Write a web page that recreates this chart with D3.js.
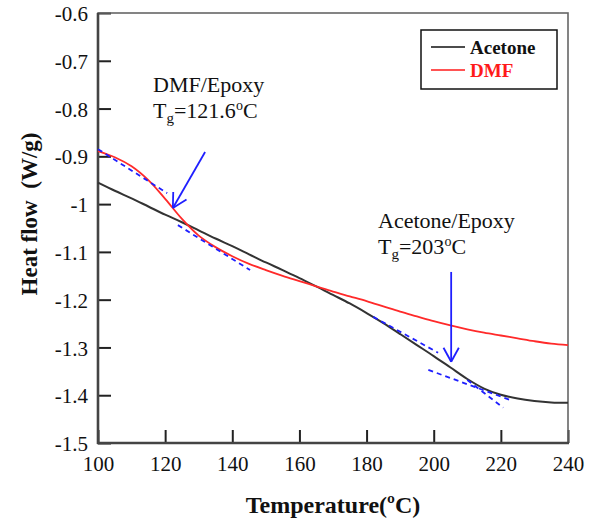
<!DOCTYPE html>
<html>
<head>
<meta charset="utf-8">
<script src="https://cdn.jsdelivr.net/npm/d3@7/dist/d3.min.js"></script>
<style>
  html, body { margin: 0; padding: 0; background: #fff; }
  svg, svg text { font-family: 'Liberation Serif', 'Tinos', 'Times New Roman', serif; }
</style>
</head>
<body>
<svg id="chart" width="594" height="522"></svg>
<script>
// ---- data ----
const temps   = [100, 105, 110, 115, 120, 125, 130, 135, 140, 145, 150, 155, 160, 165, 170, 175, 180, 185, 190, 195, 200, 205, 210, 215, 220, 225, 230, 235, 240];
const acetone = [-0.955, -0.972, -0.988, -1.005, -1.022, -1.038, -1.055, -1.072, -1.088, -1.105, -1.122, -1.138, -1.155, -1.172, -1.190, -1.208, -1.228, -1.249, -1.272, -1.295, -1.318, -1.342, -1.366, -1.386, -1.399, -1.407, -1.412, -1.415, -1.416];
const dmf     = [-0.889, -0.902, -0.921, -0.950, -0.989, -1.031, -1.066, -1.090, -1.109, -1.125, -1.138, -1.150, -1.161, -1.172, -1.183, -1.193, -1.203, -1.214, -1.225, -1.235, -1.245, -1.254, -1.262, -1.269, -1.275, -1.281, -1.287, -1.292, -1.295];
const seriesNames = ["Acetone", "DMF"];
const xTicks = [100, 120, 140, 160, 180, 200, 220, 240];
const yTicks = [-0.6, -0.7, -0.8, -0.9, -1, -1.1, -1.2, -1.3, -1.4, -1.5];
// tangent construction lines (Tg determination): [[T1, v1], [T2, v2]]
const tangentsDMF = [
  [[100, -0.885], [120.6, -0.977]],
  [[123.8, -1.044], [145.3, -1.138]]
];
const tangentsAcetone = [
  [[182, -1.236], [201.3, -1.311]],
  [[198.4, -1.347], [222.8, -1.410]],
  [[210, -1.368], [220.7, -1.426]]
];
// arrows: [from, to]
const arrowDMF = [[131.9, -0.891], [122.3, -1.008]];
const arrowAcetone = [[205.2, -1.142], [205.2, -1.330]];

// ---- layout ----
const FONT = "'Liberation Serif', 'Tinos', 'Times New Roman', serif";
const svg = d3.select("#chart");
const L = 98, R = 568, T = 13, B = 443;
const x = d3.scaleLinear().domain([100, 240]).range([L, R]);
const y = d3.scaleLinear().domain([-1.5, -0.6]).range([B, T]);

const blue = "#1f1fff";

// axes (ticks inward)
const fmt = d => String(d);
const gx = svg.append("g").attr("transform", `translate(0,${B})`)
  .call(d3.axisBottom(x).tickValues(xTicks).tickSize(-13).tickPadding(13).tickFormat(fmt));
const gy = svg.append("g").attr("transform", `translate(${L},0)`)
  .call(d3.axisLeft(y).tickValues(yTicks).tickSize(-13).tickPadding(10).tickFormat(fmt));
[gx, gy].forEach(g => {
  g.attr("font-family", null);
  g.select(".domain").remove();
  g.selectAll(".tick line").attr("stroke", "#222").attr("stroke-width", 2);
  g.selectAll(".tick text").attr("font-size", 21).attr("fill", "#111")
    .style("font-family", FONT);
});
gy.selectAll(".tick text").attr("dy", "0.36em");

// frame
svg.append("rect").attr("x", L).attr("y", T).attr("width", R - L).attr("height", B - T)
  .attr("fill", "none").attr("stroke", "#666").attr("stroke-width", 1.6);
svg.append("line").attr("x1", L).attr("x2", L).attr("y1", T).attr("y2", B + 1)
  .attr("stroke", "#444").attr("stroke-width", 2.6);
svg.append("line").attr("x1", L - 1).attr("x2", R + 1).attr("y1", B).attr("y2", B)
  .attr("stroke", "#444").attr("stroke-width", 2.6);

// curves
const line = d3.line().x(d => x(d[0])).y(d => y(d[1])).curve(d3.curveCatmullRom.alpha(0.5));
svg.append("path").datum(temps.map((t, i) => [t, acetone[i]])).attr("d", line)
  .attr("fill", "none").attr("stroke", "#333").attr("stroke-width", 2);
svg.append("path").datum(temps.map((t, i) => [t, dmf[i]])).attr("d", line)
  .attr("fill", "none").attr("stroke", "#ff2a2a").attr("stroke-width", 1.8);

// tangent lines
const straight = d3.line().x(d => x(d[0])).y(d => y(d[1]));
tangentsDMF.concat(tangentsAcetone).forEach(seg => {
  svg.append("path").datum(seg).attr("d", straight)
    .attr("fill", "none").attr("stroke", blue).attr("stroke-width", 1.8)
    .attr("stroke-dasharray", "5,4");
});

// arrows
function arrow(a) {
  const x1 = x(a[0][0]), y1 = y(a[0][1]), x2 = x(a[1][0]), y2 = y(a[1][1]);
  svg.append("line").attr("x1", x1).attr("y1", y1).attr("x2", x2).attr("y2", y2)
    .attr("stroke", blue).attr("stroke-width", 1.8);
  const ang = Math.atan2(y2 - y1, x2 - x1), len = 16, spread = 0.5;
  [ang + Math.PI - spread, ang + Math.PI + spread].forEach(a2 => {
    svg.append("line").attr("x1", x2).attr("y1", y2)
      .attr("x2", x2 + len * Math.cos(a2)).attr("y2", y2 + len * Math.sin(a2))
      .attr("stroke", blue).attr("stroke-width", 1.8);
  });
}
arrow(arrowDMF);
arrow(arrowAcetone);

// annotations
function tgLabel(xp, yp, title, val) {
  const g = svg.append("g").attr("font-size", 22).attr("fill", "#111");
  g.append("text").attr("x", xp).attr("y", yp).style("font-family", FONT).text(title);
  const t = g.append("text").attr("x", xp).attr("y", yp + 26).style("font-family", FONT);
  t.append("tspan").text("T");
  t.append("tspan").attr("font-size", 15).attr("dy", 5).text("g");
  t.append("tspan").attr("dy", -5).text("=" + val);
  t.append("tspan").attr("font-size", 14).attr("dy", -8).text("o");
  t.append("tspan").attr("dy", 8).text("C");
}
tgLabel(153, 92, "DMF/Epoxy", "121.6");
tgLabel(378, 228, "Acetone/Epoxy", "203");

// legend
const leg = svg.append("g");
leg.append("rect").attr("x", 421).attr("y", 30).attr("width", 136).attr("height", 59)
  .attr("fill", "#fff").attr("stroke", "#111").attr("stroke-width", 1.5);
const legColors = ["#111", "#ff1a1a"];
seriesNames.forEach((n, i) => {
  const yy = 47 + i * 23;
  leg.append("line").attr("x1", 431).attr("x2", 465).attr("y1", yy).attr("y2", yy)
    .attr("stroke", legColors[i]).attr("stroke-width", 1.6);
  leg.append("text").attr("x", 470).attr("y", yy).attr("dy", "0.35em").style("font-family", FONT)
    .attr("font-size", 19).attr("font-weight", "bold").attr("fill", legColors[i]).text(n);
});

// axis titles
svg.append("text").attr("x", 333).attr("y", 513).attr("text-anchor", "middle").style("font-family", FONT)
  .attr("font-size", 24).attr("font-weight", "bold").attr("fill", "#111")
  .text("Temperature(ºC)");
svg.append("text").attr("transform", "translate(37,214) rotate(-90)").attr("text-anchor", "middle")
  .style("font-family", FONT)
  .attr("font-size", 23).attr("font-weight", "bold").attr("fill", "#111")
  .attr("xml:space", "preserve").text("Heat flow  (W/g)");
</script>
</body>
</html>
